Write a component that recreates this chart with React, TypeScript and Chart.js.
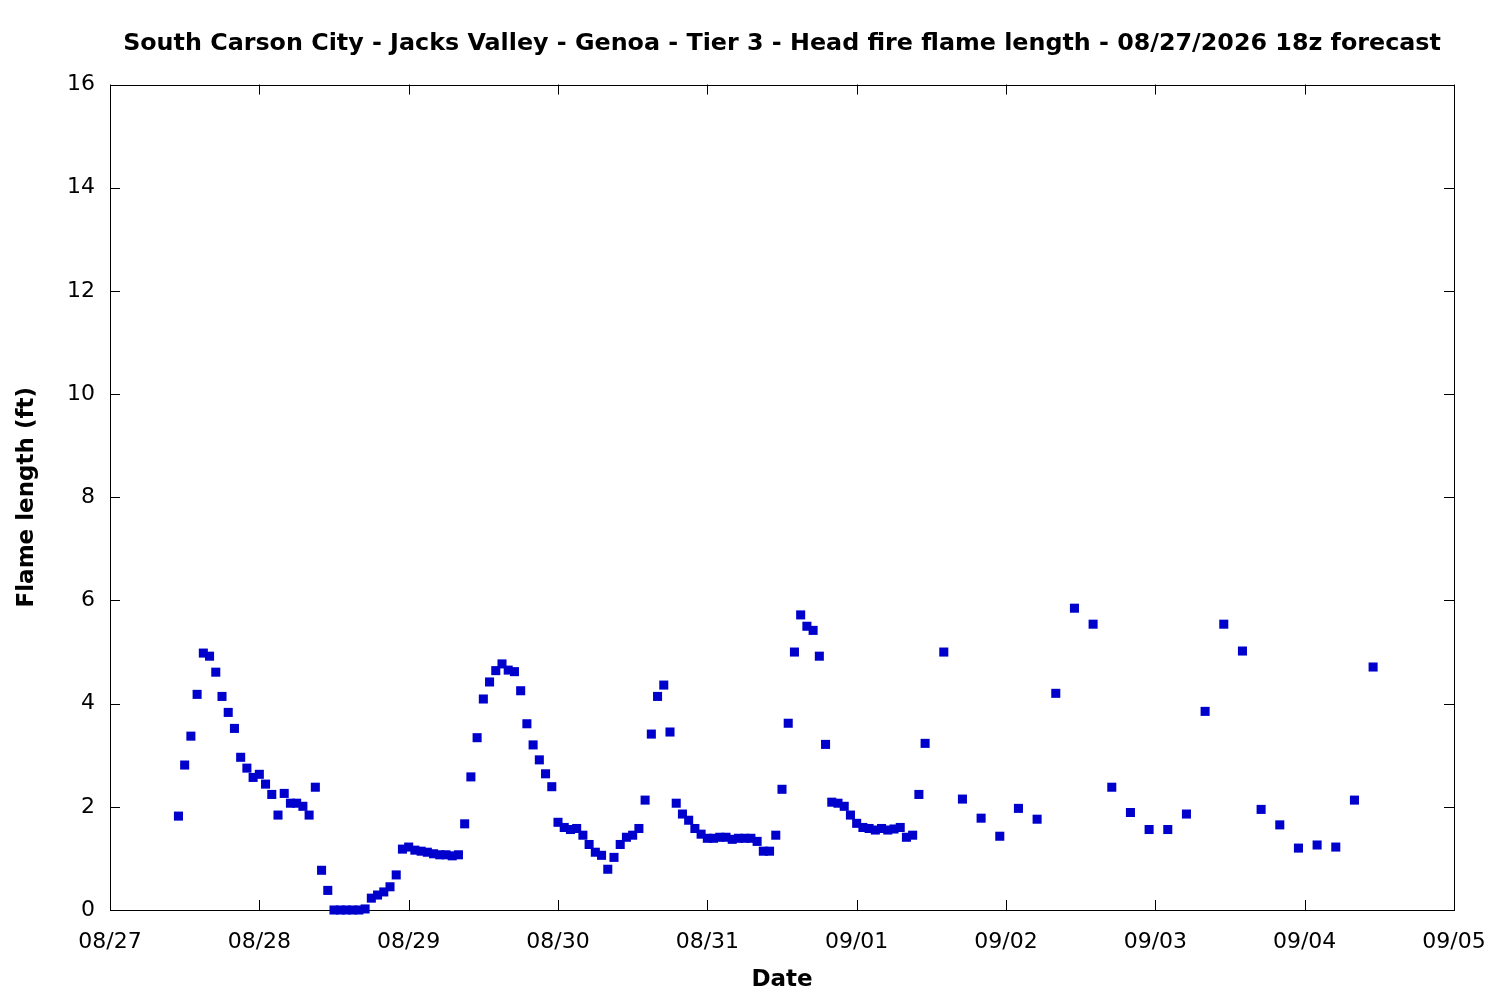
import { useEffect, useRef } from "react";
import { Chart, registerables } from "chart.js";

Chart.register(...registerables);

const chartTitle =
  "South Carson City - Jacks Valley - Genoa - Tier 3 - Head fire flame length - 08/27/2026 18z forecast";

// x ticks: one per day, axis runs in hours from 08/27 00:00
const dateLabels = ["08/27", "08/28", "08/29", "08/30", "08/31", "09/01", "09/02", "09/03", "09/04", "09/05"];
const yTicks = [0, 2, 4, 6, 8, 10, 12, 14, 16];

// hourly forecast, first value at 08/27 11:00
const hourlyStart = 11;
const hourlyFlame = [
  1.82, 2.81, 3.37, 4.18, 4.98, 4.92, 4.61, 4.14, 3.83, 3.52, 2.96, 2.75, 2.57,
  2.63, 2.44, 2.24, 1.84, 2.26, 2.07, 2.07, 2.01, 1.84, 2.38, 0.77, 0.38,
  0, 0, 0, 0, 0, 0.02, 0.23, 0.29, 0.35, 0.45, 0.68, 1.18,
  1.22, 1.16, 1.14, 1.12, 1.09, 1.07, 1.07, 1.05, 1.07, 1.67, 2.58, 3.34,
  4.09, 4.42, 4.64, 4.77, 4.65, 4.62, 4.25, 3.61, 3.2, 2.91, 2.64, 2.39,
  1.7, 1.6, 1.56, 1.58, 1.45, 1.27, 1.12, 1.06, 0.79, 1.02, 1.27, 1.41,
  1.45, 1.58, 2.13, 3.41, 4.14, 4.36, 3.45, 2.07, 1.86, 1.74, 1.58, 1.47,
  1.39, 1.39, 1.41, 1.41, 1.37, 1.39, 1.39, 1.39, 1.33, 1.14, 1.14, 1.45,
  2.34, 3.62, 5.0, 5.72, 5.5, 5.42, 4.92, 3.21, 2.09, 2.07, 2.01, 1.84,
  1.68, 1.6, 1.58, 1.55, 1.58, 1.55, 1.57, 1.6, 1.41, 1.45, 2.24, 3.23,
];

// 3-hourly forecast afterwards
const threeHourStart = 134;
const threeHourFlame = [
  5.0, 2.15, 1.78, 1.43, 1.97, 1.76, 4.2, 5.85, 5.54, 2.38, 1.89, 1.56,
  1.56, 1.86, 3.85, 5.54, 5.02, 1.95, 1.65, 1.2, 1.26, 1.22, 2.13, 4.71,
];

const FONT = "'DejaVu Sans', sans-serif";

// gnuplot-like frame with inward ticks on all four sides
const framePlugin = {
  id: "frame",
  beforeDatasetsDraw(chart: Chart) {
    const { ctx, chartArea } = chart;
    const { left, right, top, bottom } = chartArea;
    const xs = chart.scales.x;
    const ys = chart.scales.y;
    const len = 10;
    ctx.save();
    ctx.strokeStyle = "#000";
    ctx.lineWidth = 1;
    ctx.beginPath();
    xs.ticks.forEach((t) => {
      const px = Math.round(xs.getPixelForValue(t.value)) + 0.5;
      ctx.moveTo(px, bottom);
      ctx.lineTo(px, bottom - len);
      ctx.moveTo(px, top);
      ctx.lineTo(px, top + len);
    });
    ys.ticks.forEach((t) => {
      const py = Math.round(ys.getPixelForValue(t.value)) + 0.5;
      ctx.moveTo(left, py);
      ctx.lineTo(left + len, py);
      ctx.moveTo(right, py);
      ctx.lineTo(right - len, py);
    });
    ctx.stroke();
    ctx.strokeRect(Math.round(left) + 0.5, Math.round(top) + 0.5, Math.round(right - left), Math.round(bottom - top));
    ctx.restore();
  },
};

export default function App() {
  const chartRef = useRef<HTMLCanvasElement>(null);
  const chartInstance = useRef<Chart | null>(null);

  useEffect(() => {
    if (!chartRef.current) return;
    if (chartInstance.current) chartInstance.current.destroy();
    const ctx = chartRef.current.getContext("2d");
    if (!ctx) return;

    const points = [
      ...hourlyFlame.map((v, i) => ({ x: hourlyStart + i, y: v })),
      ...threeHourFlame.map((v, i) => ({ x: threeHourStart + i * 3, y: v })),
    ];

    chartInstance.current = new Chart(ctx, {
      type: "scatter",
      data: {
        datasets: [
          {
            label: "Flame length",
            data: points,
            backgroundColor: "rgb(0, 0, 204)",
            borderWidth: 0,
            pointStyle: "rect",
            pointRadius: 6.4,
            clip: false,
          },
        ],
      },
      options: {
        animation: false,
        responsive: true,
        maintainAspectRatio: false,
        layout: { padding: { left: 0, right: 46, top: 0, bottom: 0 } },
        plugins: {
          legend: { display: false },
          tooltip: { enabled: false },
          title: {
            display: true,
            fullSize: false,
            text: chartTitle,
            color: "#000",
            font: { family: FONT, size: 23.8, weight: "bold" },
            padding: { top: 30, bottom: 26 },
          },
        },
        scales: {
          x: {
            type: "linear",
            min: 0,
            max: (dateLabels.length - 1) * 24,
            afterBuildTicks: (scale) => {
              scale.ticks = dateLabels.map((_, i) => ({ value: i * 24 }));
            },
            afterFit: (scale) => {
              scale.height = 90;
              scale.paddingLeft = 0;
              scale.paddingRight = 0;
            },
            grid: { display: false, drawTicks: false },
            border: { display: false },
            ticks: {
              color: "#000",
              font: { family: FONT, size: 22 },
              padding: 19,
              maxRotation: 0,
              autoSkip: false,
              callback: (value) => dateLabels[Math.round(Number(value) / 24)] ?? "",
            },
            title: {
              display: true,
              text: "Date",
              color: "#000",
              font: { family: FONT, size: 23, weight: "bold" },
              padding: { top: 0, bottom: 6 },
            },
          },
          y: {
            min: 0,
            max: 16,
            afterBuildTicks: (scale) => {
              scale.ticks = yTicks.map((v) => ({ value: v }));
            },
            afterFit: (scale) => {
              scale.width = 110;
              scale.paddingTop = 0;
              scale.paddingBottom = 0;
            },
            grid: { display: false, drawTicks: false },
            border: { display: false },
            ticks: {
              color: "#000",
              font: { family: FONT, size: 22 },
              padding: 15,
            },
            title: {
              display: true,
              text: "Flame length (ft)",
              color: "#000",
              font: { family: FONT, size: 23, weight: "bold" },
              padding: { top: 13, bottom: 0 },
            },
          },
        },
      },
      plugins: [framePlugin],
    });

    return () => {
      if (chartInstance.current) {
        chartInstance.current.destroy();
        chartInstance.current = null;
      }
    };
  }, []);

  return (
    <div style={{ position: "fixed", left: 0, top: 0, width: 1500, height: 1000, background: "#fff" }}>
      <canvas ref={chartRef}></canvas>
    </div>
  );
}
